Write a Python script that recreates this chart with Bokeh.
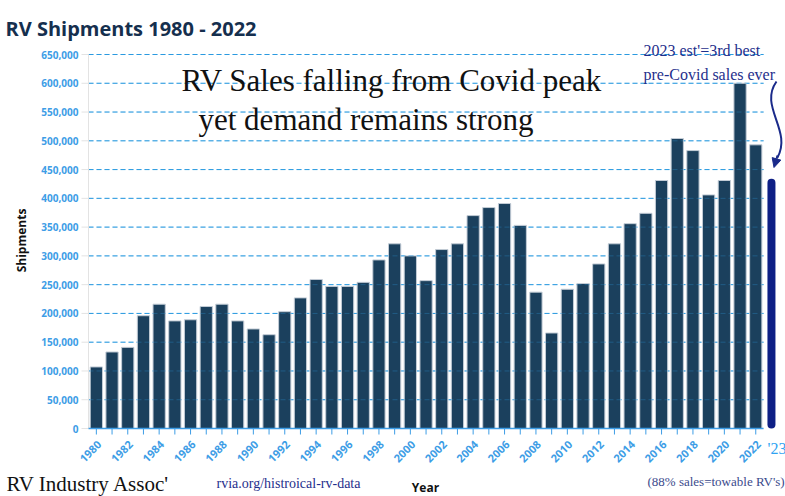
from math import pi

from bokeh.core.properties import value
from bokeh.embed import file_html
from bokeh.models import Arrow, Label, NormalHead, Range1d
from bokeh.plotting import figure
from bokeh.resources import INLINE

# RVIA yearly shipments
years = list(range(1980, 2023))
shipments = [107000, 133000, 141000, 196000, 216000, 187000, 189000, 212000,
             216000, 187000, 173000, 163000, 203000, 227000, 259000, 247000,
             247000, 254000, 293000, 321000, 300000, 257000, 311000, 321000,
             370000, 384000, 391000, 353000, 237000, 166000, 242000, 252000,
             286000, 321000, 356000, 374000, 431000, 504000, 483000, 406000,
             431000, 600000, 493000]

# 2023 estimate (drawn as the thin rounded bar on the right)
est_year = 2023
est_value = 434000

y_ticks = list(range(0, 650001, 50000))
y_labels = [f"{v:,}" for v in y_ticks]
x_major = list(range(1980, 2023, 2))
x_labels = [str(v) for v in x_major]

BAR = "#1b405d"
LIGHT_BLUE = "#3d9de6"
GRID = "#2a9ae0"
NAVY = "#1f2f8c"

PX_PER_YEAR = 15.7
Y_PER_PX = 650000 / 374


# canvas pixel -> data helpers: the plot area's left edge sits at x=88,
# the zero line at y=428
def px(X):
    return 1979.5 + (X - 88) / PX_PER_YEAR


def py(Y):
    return (428 - Y) * Y_PER_PX


# the frame covers the whole canvas so that every note can sit where the
# original has it; the axes are drawn with glyphs on the same scales
p = figure(width=785, height=496, output_backend="svg", toolbar_location=None,
           x_range=Range1d(px(0), px(785)), y_range=Range1d(py(496), py(0)),
           x_axis_location=None, y_axis_location=None, min_border=0)
p.outline_line_color = None
p.xgrid.visible = False
p.ygrid.visible = False

# dashed grid lines stop at the end of the 2022 category
p.segment(x0=1979.5, x1=2022.5, y0=y_ticks[1:], y1=y_ticks[1:],
          line_color=GRID, line_width=1, line_dash="5 3")

p.vbar(x=years, top=shipments, width=0.78, fill_color=BAR,
       line_color="#c3ccd6", line_width=1)

# grid shows faintly through the bars
p.segment(x0=1979.5, x1=2022.5, y0=y_ticks[1:], y1=y_ticks[1:],
          line_color=GRID, line_alpha=0.3, line_width=1, line_dash="5 3")

p.vbar(x=[est_year], top=[est_value], width=8 / PX_PER_YEAR, border_radius=4,
       fill_color="#0e1f85", line_color=None)

# y axis: light grey line, short outside ticks, blue labels
y_tick = 7 / PX_PER_YEAR
p.segment(x0=1979.5, x1=1979.5, y0=0, y1=y_ticks[-1], line_color="#e3e3e3",
          line_width=1)
p.segment(x0=1979.5 - y_tick, x1=1979.5, y0=y_ticks, y1=y_ticks,
          line_color="#e3e3e3", line_width=1)
p.text(x=1979.5, y=y_ticks, text=y_labels, x_offset=-10, text_align="right",
       text_baseline="middle", text_font=value("Open Sans"),
       text_font_style="bold", text_font_size="10px", text_color=LIGHT_BLUE)

# x axis: baseline, a tick per year and rotated labels every other year
x_tick = 6 * Y_PER_PX
p.segment(x0=1979.5, x1=2022.5, y0=0, y1=0, line_color=LIGHT_BLUE, line_width=1.5)
p.segment(x0=years, x1=years, y0=0, y1=-x_tick, line_color=LIGHT_BLUE,
          line_width=1)
p.text(x=x_major, y=0, text=x_labels, angle=pi / 4, x_offset=3, y_offset=14,
       text_align="right", text_baseline="middle", text_font=value("Open Sans"),
       text_font_style="bold", text_font_size="11px", text_color=LIGHT_BLUE)

# curved arrow pointing at the 2023 estimate
p.bezier(x0=px(776), y0=py(81), x1=px(777), y1=py(157), cx0=px(758), cy0=py(106),
         cx1=px(792), cy1=py(130), line_color="#1a2a8a", line_width=2)
p.add_layout(Arrow(end=NormalHead(size=9, fill_color="#1a2a8a", line_color="#1a2a8a"),
                   x_start=px(777), y_start=py(155), x_end=px(773.5), y_end=py(167),
                   line_color="#1a2a8a", line_width=2))


def lab(X, Y, text, size, color, font="Liberation Serif", style="normal",
        align="left", baseline="alphabetic", angle=0):
    p.add_layout(Label(x=X, y=Y, x_units="canvas", y_units="canvas", text=text,
                       text_font=font, text_font_size=size,
                       text_font_style=style, text_color=color,
                       text_align=align, text_baseline=baseline, angle=angle))


lab(5, 28, "RV Shipments 1980 - 2022", "20px", "#152f4e", font="Open Sans", style="bold")
lab(21, 240, "Shipments", "12px", "#111111", font="Open Sans", style="bold",
    align="center", baseline="middle", angle=pi / 2)
lab(181, 80, "RV Sales falling from Covid peak", "31px", "#111111")
lab(198, 119, "yet demand remains strong", "31px", "#111111")
lab(643, 50, "2023 est'=3rd best", "16px", NAVY)
lab(643, 74, "pre-Covid sales ever", "16px", NAVY)
lab(767, 448, "'23", "16px", "#2ea3f2")
lab(6, 483, "RV Industry Assoc'", "21px", "#111111")
lab(216, 483, "rvia.org/histroical-rv-data", "14px", NAVY)
lab(647, 481, "(88% sales=towable RV's)", "13px", "#3b4a8c")
lab(425, 487, "Year", "12px", "#111111", font="Open Sans", style="bold", align="center")

open("out.html", "w").write(file_html(p, INLINE))
